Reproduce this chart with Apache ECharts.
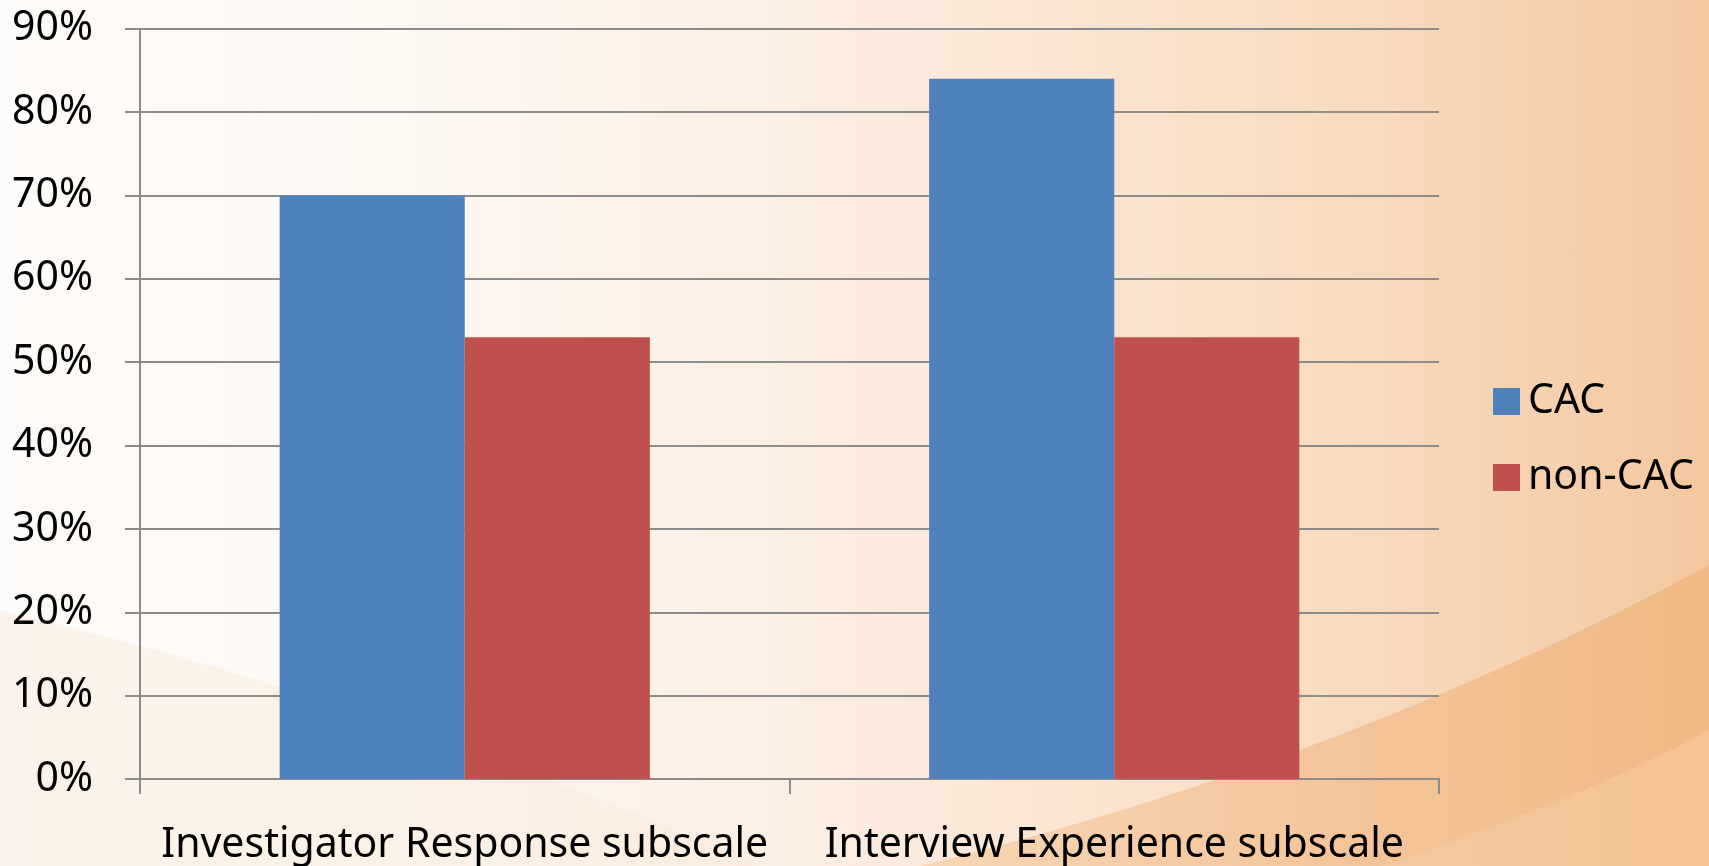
<!DOCTYPE html>
<html>
<head>
<meta charset="utf-8">
<script src="https://cdn.jsdelivr.net/npm/echarts@6/dist/echarts.min.js"></script>
<style>
html,body{margin:0;padding:0;width:1709px;height:866px;overflow:hidden;}
body{background:linear-gradient(to right, #fefcfa 0%, #fdf7f1 25%, #fbeadb 55%, #f8dcc1 78%, #f4c89f 100%);position:relative;}
#bg{position:absolute;left:0;top:0;width:1709px;height:866px;}
#chart{position:absolute;left:0;top:0;width:1709px;height:866px;}
</style>
</head>
<body>
<svg id="bg" width="1709" height="866" xmlns="http://www.w3.org/2000/svg">
  <defs>
    <linearGradient id="og" x1="0" y1="0" x2="1" y2="0">
      <stop offset="0" stop-color="#f8d6b5"/>
      <stop offset="0.5" stop-color="#f4c69c"/>
      <stop offset="1" stop-color="#f0b985"/>
    </linearGradient>
    <linearGradient id="lg" x1="0" y1="0" x2="1" y2="0">
      <stop offset="0" stop-color="#f7eadc" stop-opacity="0.55"/>
      <stop offset="1" stop-color="#f8e4cf" stop-opacity="0.25"/>
    </linearGradient>
  </defs>
  <path d="M 0 610 Q 380 700 760 866 L 0 866 Z" fill="url(#lg)"/>
  <path d="M 920 866 Q 1350 760 1709 565 L 1709 866 Z" fill="url(#og)"/>
  <path d="M 1380 866 Q 1580 800 1709 730 L 1709 866 Z" fill="#f6cfa8" fill-opacity="0.45"/>
</svg>
<div id="chart"></div>
<script>
const categories = ['Investigator Response subscale', 'Interview Experience subscale'];
const seriesNames = ['CAC', 'non-CAC'];
const cacValues = [70, 84];
const nonCacValues = [53, 53];
const yTicks = [0, 10, 20, 30, 40, 50, 60, 70, 80, 90];

const chart = echarts.init(document.getElementById('chart'), null, {renderer: 'canvas'});
const font = '"Noto Sans", sans-serif';
chart.setOption({
  backgroundColor: 'transparent',
  animation: false,
  textStyle: {fontFamily: font},
  grid: {left: 140, right: 270, top: 28.7, bottom: 85, containLabel: false},
  legend: {
    orient: 'vertical',
    left: 1488, top: 376,
    itemWidth: 27, itemHeight: 27, itemGap: 35,
    icon: 'rect',
    textStyle: {fontSize: 41, color: '#000', fontFamily: font, padding: [0, 0, 0, 3]},
    data: seriesNames
  },
  xAxis: {
    type: 'category',
    data: categories,
    axisLine: {show: true, lineStyle: {color: '#8c8c8c', width: 2}},
    axisTick: {show: true, interval: 0, length: 15, lineStyle: {color: '#8c8c8c', width: 2}},
    axisLabel: {interval: 0, fontSize: 41, color: '#000', margin: 46, fontFamily: font}
  },
  yAxis: {
    type: 'value',
    min: yTicks[0], max: yTicks[yTicks.length - 1], interval: 10,
    axisLine: {show: true, lineStyle: {color: '#8c8c8c', width: 2}},
    axisTick: {show: true, length: 15, lineStyle: {color: '#8c8c8c', width: 2}},
    splitLine: {show: true, lineStyle: {color: '#8c8c8c', width: 2}},
    axisLabel: {fontSize: 41, color: '#000', margin: 47, fontFamily: font, formatter: v => v + '%'}
  },
  series: [
    {name: seriesNames[0], type: 'bar', data: cacValues, barGap: '0%', barCategoryGap: '43%',
     itemStyle: {color: '#4f81bd'}},
    {name: seriesNames[1], type: 'bar', data: nonCacValues, barGap: '0%', barCategoryGap: '43%',
     itemStyle: {color: '#c0504d'}}
  ]
});
</script>
</body>
</html>
